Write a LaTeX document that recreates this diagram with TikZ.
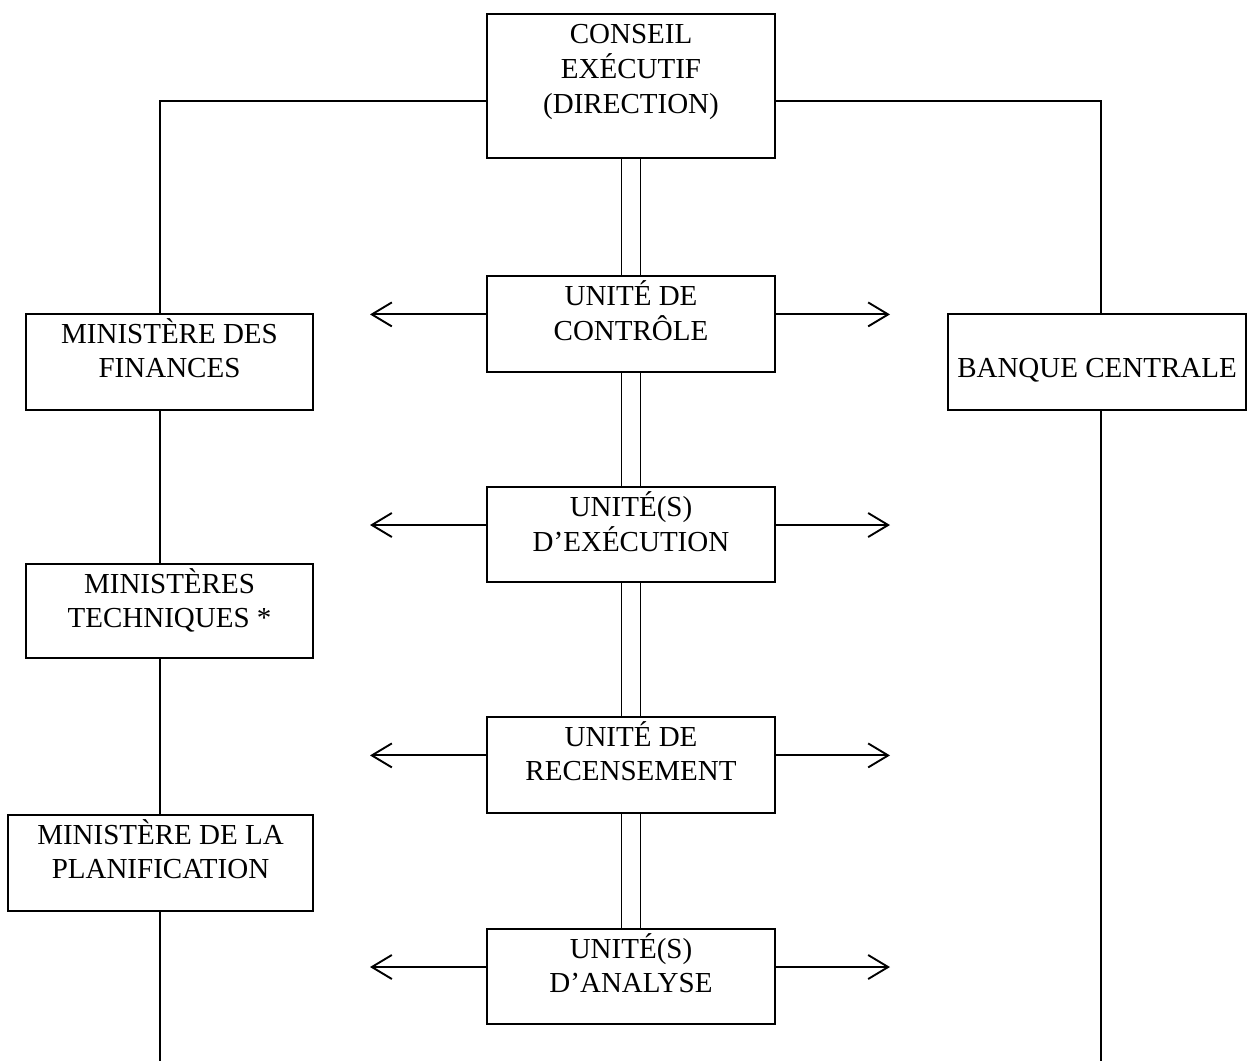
\documentclass[tikz,border=0pt]{standalone}
\usepackage{fontspec}
\setmainfont{Liberation Serif}
\usetikzlibrary{arrows.meta,calc}
\begin{document}
\begin{tikzpicture}[x=1pt,y=-1pt,
  box/.style={draw,line width=1.9pt,rectangle,inner sep=0pt,outer sep=0pt},
  txt/.style={anchor=base,inner sep=0pt,font=\fontsize{29}{34.5}\selectfont},
  ln/.style={line width=1.9pt},
  arr/.style={line width=1.9pt,-{Straight Barb[length=20pt,width=24pt,line width=1.9pt]}}]
\useasboundingbox (0,0) rectangle (1247,1061);
\renewcommand{\arraystretch}{1}
\setlength{\tabcolsep}{0pt}
% central boxes
\node[box,minimum width=288pt,minimum height=144pt] (C) at (631,86) {};
\node[box,minimum width=288pt,minimum height=96pt] (U1) at (631,324) {};
\node[box,minimum width=288pt,minimum height=95pt] (U2) at (631,534.5) {};
\node[box,minimum width=288pt,minimum height=96pt] (U3) at (631,765) {};
\node[box,minimum width=288pt,minimum height=95pt] (U4) at (631,976.5) {};
% left boxes
\node[box,minimum width=287pt,minimum height=96pt] (M1) at (169.5,362) {};
\node[box,minimum width=287pt,minimum height=94pt] (M2) at (169.5,611) {};
\node[box,minimum width=305pt,minimum height=96pt] (M3) at (160.5,863) {};
% right box
\node[box,minimum width=298pt,minimum height=96pt] (B) at (1097,362) {};
% texts
\node[txt] (Ct) at ([yshift=-29.4pt]C.north) {\begin{tabular}[t]{c}CONSEIL\\EXÉCUTIF\\(DIRECTION)\end{tabular}};
\node[txt] (U1t) at ([yshift=-29pt]U1.north) {\begin{tabular}[t]{c}UNITÉ DE\\CONTRÔLE\end{tabular}};
\node[txt] (U2t) at ([yshift=-29pt]U2.north) {\begin{tabular}[t]{c}UNITÉ(S)\\D’EXÉCUTION\end{tabular}};
\node[txt] (U3t) at ([yshift=-29pt]U3.north) {\begin{tabular}[t]{c}UNITÉ DE\\RECENSEMENT\end{tabular}};
\node[txt] (U4t) at ([yshift=-29pt]U4.north) {\begin{tabular}[t]{c}UNITÉ(S)\\D’ANALYSE\end{tabular}};
\node[txt] (M1t) at ([yshift=-29pt]M1.north) {\begin{tabular}[t]{c}MINISTÈRE DES\\FINANCES\end{tabular}};
\node[txt] (M2t) at ([yshift=-29pt]M2.north) {\begin{tabular}[t]{c}MINISTÈRES\\TECHNIQUES *\end{tabular}};
\node[txt] (M3t) at ([yshift=-29pt]M3.north) {\begin{tabular}[t]{c}MINISTÈRE DE LA\\PLANIFICATION\end{tabular}};
\node[txt] (Bt) at ([yshift=-63pt]B.north) {BANQUE CENTRALE};
% coordinates
\coordinate (L) at (160,0);
\coordinate (R) at (1101,0);
\coordinate (Lend) at (160,1061);
\coordinate (Rend) at (1101,1061);
% left tree
\draw[ln] (C.west |- 0,101) -| (L |- M1.north);
\draw[ln] (L |- M1.south) -- (L |- M2.north);
\draw[ln] (L |- M2.south) -- (L |- M3.north);
\draw[ln] (L |- M3.south) -- (Lend);
% right tree
\draw[ln] (C.east |- 0,101) -| (R |- B.north);
\draw[ln] (R |- B.south) -- (Rend);
% double lines
\foreach \a/\b in {C/U1,U1/U2,U2/U3,U3/U4}{
  \draw[ln] ([xshift=-9.5pt]\a.south) -- ([xshift=-9.5pt]\b.north);
  \draw[ln] ([xshift=9.5pt]\a.south) -- ([xshift=9.5pt]\b.north);
}
% arrows
\foreach \u in {U1,U2,U3,U4}{
  \coordinate (\u l) at ($(\u.north west)!0.4!(\u.south west) + (-117,0)$);
  \coordinate (\u r) at ($(\u.north east)!0.4!(\u.south east) + (115,0)$);
  \draw[arr] ($(\u.north west)!0.4!(\u.south west)$) -- (\u l);
  \draw[arr] ($(\u.north east)!0.4!(\u.south east)$) -- (\u r);
}
\end{tikzpicture}
\end{document}
